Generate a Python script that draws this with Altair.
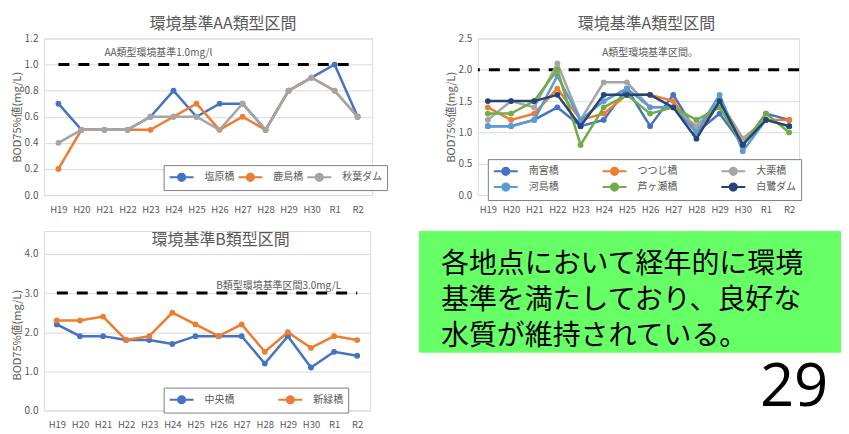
import altair as alt
import pandas as pd

CJK = "Noto Sans CJK JP"
GRAY = "#595959"

years = ["H19", "H20", "H21", "H22", "H23", "H24", "H25", "H26", "H27", "H28", "H29", "H30", "R1", "R2"]

# 環境基準AA類型区間
aa_names = ["塩原橋", "鹿島橋", "秋葉ダム"]
aa_s1 = [0.7, 0.5, 0.5, 0.5, 0.6, 0.8, 0.6, 0.7, 0.7, 0.5, 0.8, 0.9, 1.0, 0.6]
aa_s2 = [0.2, 0.5, 0.5, 0.5, 0.5, 0.6, 0.7, 0.5, 0.6, 0.5, 0.8, 0.9, 0.8, 0.6]
aa_s3 = [0.4, 0.5, 0.5, 0.5, 0.6, 0.6, 0.6, 0.5, 0.7, 0.5, 0.8, 0.9, 0.8, 0.6]
aa_colors = ["#4472C4", "#ED7D31", "#A5A5A5"]
aa_ticks = [0.0, 0.2, 0.4, 0.6, 0.8, 1.0, 1.2]
aa_std = 1.0

# 環境基準A類型区間
a_names = ["南宮橋", "つつじ橋", "大栗橋", "河島橋", "芦ヶ瀬橋", "白鷺ダム"]
a_s1 = [1.1, 1.1, 1.2, 1.4, 1.1, 1.2, 1.7, 1.1, 1.6, 1.0, 1.3, 0.8, 1.3, 1.2]
a_s2 = [1.4, 1.2, 1.3, 1.7, 1.2, 1.3, 1.6, 1.6, 1.5, 1.0, 1.5, 0.9, 1.2, 1.2]
a_s3 = [1.2, 1.5, 1.4, 2.1, 1.2, 1.8, 1.8, 1.4, 1.4, 1.1, 1.5, 0.9, 1.2, 1.1]
a_s4 = [1.1, 1.1, 1.2, 1.9, 1.2, 1.5, 1.7, 1.4, 1.4, 1.0, 1.6, 0.7, 1.2, 1.1]
a_s5 = [1.3, 1.3, 1.5, 2.0, 0.8, 1.4, 1.6, 1.3, 1.4, 1.2, 1.4, 0.8, 1.3, 1.0]
a_s6 = [1.5, 1.5, 1.5, 1.6, 1.1, 1.6, 1.6, 1.6, 1.4, 0.9, 1.5, 0.8, 1.2, 1.1]
a_colors = ["#4472C4", "#ED7D31", "#A5A5A5", "#5B9BD5", "#70AD47", "#264478"]
a_ticks = [0.0, 0.5, 1.0, 1.5, 2.0, 2.5]
a_std = 2.0

# 環境基準B類型区間
b_names = ["中央橋", "新緑橋"]
b_s1 = [2.2, 1.9, 1.9, 1.8, 1.8, 1.7, 1.9, 1.9, 1.9, 1.2, 1.9, 1.1, 1.5, 1.4]
b_s2 = [2.3, 2.3, 2.4, 1.8, 1.9, 2.5, 2.2, 1.9, 2.2, 1.5, 2.0, 1.6, 1.9, 1.8]
b_colors = ["#4472C4", "#ED7D31"]
b_ticks = [0.0, 1.0, 2.0, 3.0, 4.0]
b_std = 3.0

message = "各地点において経年的に環境\n基準を満たしており、良好な\n水質が維持されている。"
page_no = "29"

SYM = "M-2,0L2,0M-0.6,0A0.6,0.6,0,1,1,0.6,0A0.6,0.6,0,1,1,-0.6,0"


def panel(names, series, colors, ticks, std, width, height, ytop, pad, title, title_dx,
          ann, ann_x, ann_y, ann_align, ann_dx, rule_span,
          ncols, lx, ly, cpad, inner_title=None, title_y=None):
    rows = [{"year": yr, "series": n, "value": v}
            for n, vals in zip(names, series) for yr, v in zip(years, vals)]
    df = pd.DataFrame(rows)
    xscale = alt.Scale(type="point", domain=years, padding=pad)
    xaxis = alt.Axis(title=None, labelAngle=0, ticks=False, domain=False, grid=False,
                     labelPadding=9, labelFontSize=9.5, labelColor=GRAY, labelFont=CJK)
    yscale = alt.Scale(domain=[ticks[0], ytop], nice=False)
    yax = dict(values=ticks, format=".1f", title="BOD75%値(mg/L)",
               titleFont=CJK, titleFontSize=11, titleFontWeight="normal",
               titleColor=GRAY, titlePadding=2, labelOverlap=False,
               labelFont=CJK, labelFontSize=10, labelColor=GRAY, labelPadding=6,
               ticks=False, domain=False, grid=True,
               gridColor="#D9D9D9", gridWidth=1)
    if title_y is not None:
        yax["titleY"] = title_y
    yaxis = alt.Axis(**yax)
    xenc = alt.X("year:O", sort=years, scale=xscale, axis=xaxis)
    yenc = alt.Y("value:Q", scale=yscale, axis=yaxis)
    legend = alt.Legend(title=None, orient="none", legendX=lx, legendY=ly,
                        direction="horizontal", columns=ncols,
                        symbolType=SYM, symbolSize=144, symbolStrokeWidth=2,
                        symbolOffset=6, labelOffset=16,
                        labelFont=CJK, labelFontSize=10, labelColor=GRAY,
                        columnPadding=cpad, rowPadding=0, padding=5,
                        strokeColor="#7F7F7F", fillColor="white")
    cscale = alt.Scale(domain=names, range=colors)
    color = alt.Color("series:N", scale=cscale, legend=legend)
    stroke = alt.Stroke("series:N", scale=cscale, legend=legend)

    base = alt.Chart(df)
    one = alt.Chart(pd.DataFrame({"k": [0]}))
    layers = []
    if rule_span:
        rule = one.mark_rule(strokeDash=[11, 9], strokeWidth=3, color="black").encode(
            x=alt.XDatum(years[0], type="ordinal", scale=xscale, axis=xaxis),
            x2=alt.X2Datum(years[-1]),
            y=alt.YDatum(std, scale=yscale, axis=yaxis))
    else:
        rule = one.mark_rule(strokeDash=[11, 9], strokeWidth=3, color="black").encode(
            y=alt.YDatum(std, scale=yscale, axis=yaxis))
    layers.append(rule)
    layers.append(one.mark_text(align=ann_align, baseline="middle", dx=ann_dx,
                                fontSize=10, font=CJK, color=GRAY).encode(
        x=alt.XDatum(ann_x, type="ordinal", scale=xscale, axis=xaxis),
        y=alt.YDatum(ann_y, scale=yscale, axis=yaxis),
        text=alt.value(ann)))
    if inner_title is not None:
        tx, ty, tdx = inner_title
        layers.append(one.mark_text(align="center", baseline="middle", dx=tdx,
                                    fontSize=16, font=CJK, color=GRAY).encode(
            x=alt.XDatum(tx, type="ordinal", scale=xscale, axis=xaxis),
            y=alt.YDatum(ty, scale=yscale, axis=yaxis),
            text=alt.value(title)))
    for n in names:
        sub = base.transform_filter(alt.datum.series == n)
        layers.append(sub.mark_line(strokeWidth=2.5).encode(x=xenc, y=yenc, stroke=stroke))
        layers.append(sub.mark_circle(size=34, opacity=1, strokeWidth=0).encode(
            x=xenc, y=yenc, color=color, stroke=stroke))
    ch = alt.layer(*layers).properties(width=width, height=height)
    if inner_title is None:
        ch = ch.properties(title=alt.TitleParams(
            title, fontSize=16, font=CJK, fontWeight="normal", color=GRAY,
            anchor="middle", dx=title_dx, offset=1))
    return ch


aa = panel(aa_names, [aa_s1, aa_s2, aa_s3], aa_colors, aa_ticks, aa_std, 329, 157, 1.2, 0.63,
           "環境基準AA類型区間", 15, "AA類型環境基準1.0mg/l", "H21", 1.09, "left", 0, True,
           3, 120, 127, 0)
a = panel(a_names, [a_s1, a_s2, a_s3, a_s4, a_s5, a_s6], a_colors, a_ticks, a_std, 322, 157, 2.5,
          0.43, "環境基準A類型区間", 8, "A類型環境基準区間。", "H26", 2.27, "center", 0, False,
          3, 10, 121, 40)
# B panel: plot area extended upward so that its title sits inside, level with the green box
b = panel(b_names, [b_s1, b_s2], b_colors, b_ticks, b_std, 327, 180, 4.0 * 180 / 157, 0.56,
          "環境基準B類型区間", 0, "B類型環境基準区間3.0mg/L", "R1", 3.18, "right", 7, True,
          2, 120, 157, 40, inner_title=("H26", 4.36, 2), title_y=104)

one = alt.Chart(pd.DataFrame({"k": [0]}))
xs = alt.Scale(domain=[0, 1])
ys = alt.Scale(domain=[0, 1], reverse=True)
msg = one.mark_text(align="left", baseline="top", fontSize=28, font=CJK, color="black",
                    lineBreak="\n", lineHeight=36).encode(
    x=alt.XDatum(0.052, scale=xs, axis=None),
    y=alt.YDatum(0.167, scale=ys, axis=None),
    text=alt.value(message))
num = one.mark_text(align="right", baseline="middle", fontSize=60, font="Open Sans",
                    color="black").encode(
    x=alt.XDatum(0.97, scale=xs, axis=None),
    y=alt.YDatum(1.29, scale=ys, axis=None),
    text=alt.value(page_no))
tpanel = alt.layer(msg, num).properties(
    width=423, height=122,
    view=alt.ViewBackground(fill="#66FF66", strokeWidth=0))

row1 = alt.hconcat(aa, a, spacing=106, bounds="flush").resolve_scale(
    color="independent", stroke="independent")
row2 = alt.hconcat(b, tpanel, spacing=48).resolve_scale(
    color="independent", stroke="independent")
chart = alt.vconcat(row1, row2, spacing=16).resolve_scale(
    color="independent", stroke="independent").properties(
    padding={"top": 7, "left": 2, "right": 0, "bottom": 0}
).configure_view(strokeWidth=0).configure(background="white")

chart.save("out.html", embed_options={"renderer": "svg", "actions": False})
